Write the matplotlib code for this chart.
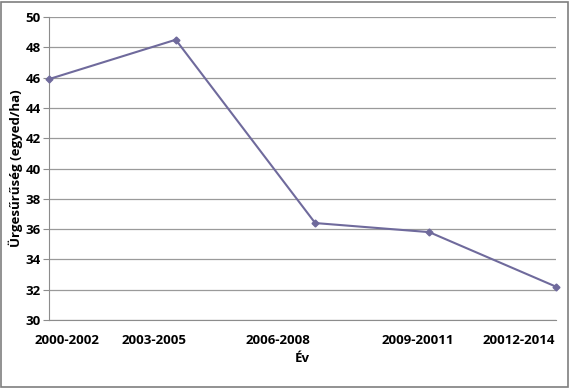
import matplotlib.pyplot as plt
from matplotlib.patches import Rectangle

# data
periods = ["2000-2002", "2003-2005", "2006-2008", "2009-20011", "20012-2014"]
density = [45.9, 48.5, 36.4, 35.8, 32.2]
x_vals = [0, 1, 2.1, 3, 4]                 # uneven spacing in the original
label_pos = [0.14, 0.83, 1.81, 2.91, 3.71]  # where the category labels sit

plt.rcParams['font.family'] = ['Open Sans', 'DejaVu Sans']

fig = plt.figure(figsize=(5.7, 3.88), dpi=100)
ax = fig.add_axes([49 / 570, 1 - 320 / 388, 507 / 570, 303 / 388])

ax.plot(x_vals, density, color='#6f6a9c', lw=1.5, marker='D', ms=3.5,
        clip_on=False, zorder=3)

ax.set_xlim(0, 4)
ax.set_ylim(30, 50)
ax.set_yticks(range(30, 51, 2))
ax.grid(axis='y', color='#9a9a9a', lw=0.9)
ax.set_axisbelow(True)
for s in ['top', 'right']:
    ax.spines[s].set_visible(False)
for s in ['left', 'bottom']:
    ax.spines[s].set_color('#8c8c8c')
ax.tick_params(axis='y', length=4, color='#8c8c8c', labelsize=9.5, pad=2)
for t in ax.get_yticklabels():
    t.set_fontweight('bold')

ax.set_xticks(label_pos, periods)
ax.tick_params(axis='x', length=0, labelsize=9.5, pad=10)
for t in ax.get_xticklabels():
    t.set_fontweight('bold')

ax.set_xlabel("Év", fontsize=9.5, fontweight='bold', labelpad=4)
ax.set_ylabel("Ürgesűrűség (egyed/ha)", fontsize=9.5, fontweight='bold', labelpad=2)

# grey frame around the whole chart
fig.patches.append(Rectangle((0.002, 0.003), 0.995, 0.993, transform=fig.transFigure,
                             fill=False, ec='#7f7f7f', lw=1.2))

fig.savefig("out.png", dpi=100)
